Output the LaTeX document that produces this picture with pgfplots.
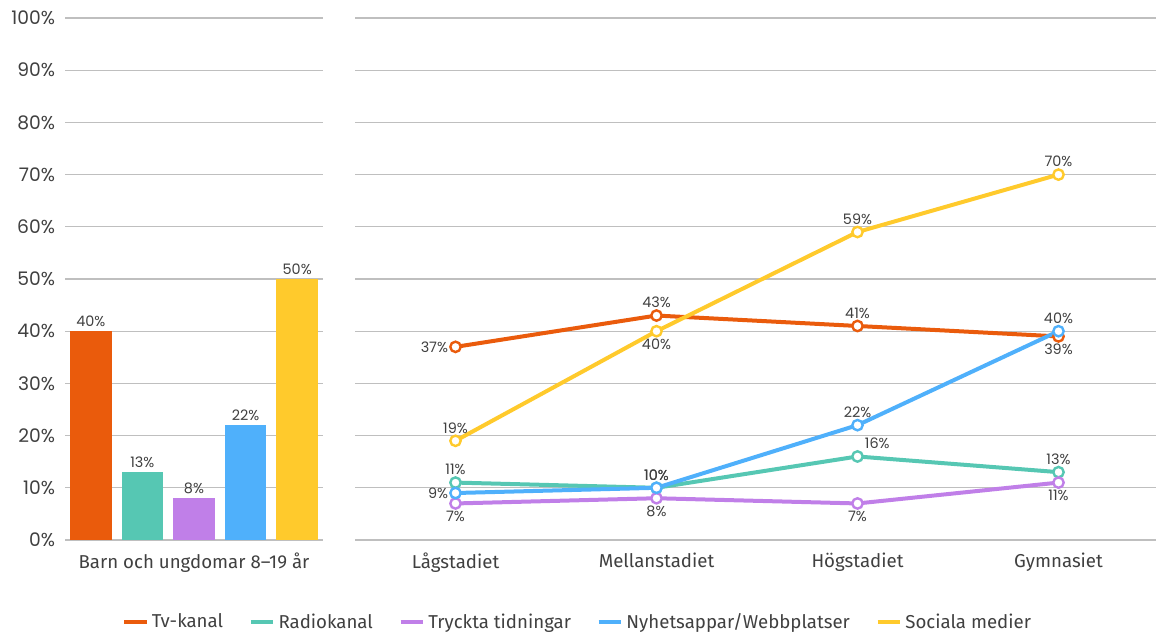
\documentclass[border=0pt]{standalone}
\usepackage{fontspec}
\setmainfont{Fira Sans}
\newfontfamily\numfont{Poppins}
\usepackage{pgfplots}
\usepackage{pgfplotstable}
\pgfplotsset{compat=1.18}

\definecolor{tvc}{HTML}{EA5B0C}
\definecolor{radc}{HTML}{56C7B3}
\definecolor{trc}{HTML}{C07FE8}
\definecolor{nyc}{HTML}{4FB0FB}
\definecolor{soc}{HTML}{FFCA2C}
\definecolor{gridc}{HTML}{BFBFBF}
\definecolor{txtc}{HTML}{404040}

% x = stadium (0 Lågstadiet ... 3 Gymnasiet), y = percent, pos = label anchor
\pgfplotstableread{
x y pos
0 37 east
1 43 south
2 41 south
3 39 north
}\tvdata
\pgfplotstableread{
x y pos
0 11 south
1 10 south
2 16 {south west}
3 13 south
}\raddata
\pgfplotstableread{
x y pos
0 7 north
1 8 north
2 7 north
3 11 north
}\trdata
\pgfplotstableread{
x y pos
0 9 east
1 10 south
2 22 south
3 40 south
}\nydata
\pgfplotstableread{
x y pos
0 19 south
1 40 north
2 59 south
3 70 south
}\sodata

\pgfplotsset{
  common/.style={
    scale only axis,
    height=391.5pt,
    ymin=0, ymax=100,
    ytick={0,10,...,100},
    ymajorgrids,
    grid style={gridc, line width=0.8pt},
    axis line style={draw=none},
    major tick style={draw=none},
    /pgf/number format/assume math mode=true,
    clip=false,
    xticklabel style={font=\fontsize{14}{16}\selectfont, text=txtc, yshift=-6pt},
  },
  lineplot/.style={
    line width=3pt, color=#1, mark=*,
    mark size=3.9pt,
    mark options={fill=white, draw=#1, line width=1.8pt},
    point meta=explicit symbolic,
    visualization depends on=rawy \as \rawy,
    nodes near coords={\pgfmathprintnumber{\rawy}\%},
    every node near coord/.append style={anchor=\pgfplotspointmeta, font=\numfont\fontsize{10.8}{12}\selectfont,
      text=txtc, inner sep=1pt, outer sep=4.6pt},
  },
  barplot/.style={
    ybar, bar shift=0pt, bar width=0.81, fill=#1, draw=none,
    nodes near coords={\pgfmathprintnumber{\pgfplotspointmeta}\%},
    every node near coord/.append style={font=\numfont\fontsize{10.8}{12}\selectfont,
      text=txtc, inner sep=1pt, outer sep=2.2pt},
  },
}

\begin{document}
\begin{tikzpicture}
\path[use as bounding box] (0,0) rectangle (867pt,476.25pt);

\begin{axis}[common,
  at={(48.75pt,71.25pt)}, anchor=south west,
  width=193.5pt,
  xmin=-0.5, xmax=4.5,
  xtick={2}, xticklabels={Barn och ungdomar 8–19 år},
  yticklabels={0\%,10\%,20\%,30\%,40\%,50\%,60\%,70\%,80\%,90\%,100\%},
  yticklabel style={font=\numfont\fontsize{14}{16}\selectfont, text=txtc, xshift=-4pt},
]
\addplot[barplot=tvc] coordinates {(0,40)};
\addplot[barplot=radc] coordinates {(1,13)};
\addplot[barplot=trc] coordinates {(2,8)};
\addplot[barplot=nyc] coordinates {(3,22)};
\addplot[barplot=soc] coordinates {(4,50)};
\end{axis}

\begin{axis}[common,
  at={(266.25pt,71.25pt)}, anchor=south west,
  width=603pt,
  xmin=-0.5, xmax=3.5,
  xtick={0,1,2,3},
  xticklabels={Lågstadiet,Mellanstadiet,Högstadiet,Gymnasiet},
  yticklabels={},
  legend columns=5,
  legend style={at={(0.277,-0.157)}, anchor=center, draw=none, fill=none,
    font=\fontsize{14}{16}\selectfont, text=txtc,
    /tikz/every even column/.append style={column sep=17pt}},
  legend image code/.code={\draw[#1, mark=none, line width=3.6pt] (0pt,0pt) -- (17pt,0pt);},
]
\addplot[lineplot=tvc] table[x=x, y=y, meta=pos] {\tvdata};
\addplot[lineplot=radc] table[x=x, y=y, meta=pos] {\raddata};
\addplot[lineplot=trc] table[x=x, y=y, meta=pos] {\trdata};
\addplot[lineplot=nyc] table[x=x, y=y, meta=pos] {\nydata};
\addplot[lineplot=soc] table[x=x, y=y, meta=pos] {\sodata};
\legend{Tv-kanal, Radiokanal, Tryckta tidningar, Nyhetsappar/Webbplatser, Sociala medier}
\end{axis}
\end{tikzpicture}
\end{document}
